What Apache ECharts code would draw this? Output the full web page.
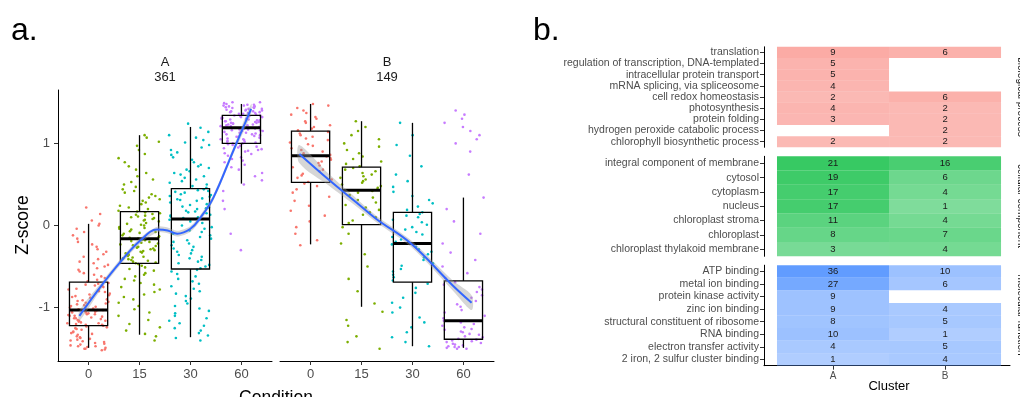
<!DOCTYPE html>
<html><head><meta charset="utf-8">
<script src="https://cdn.jsdelivr.net/npm/echarts@6/dist/echarts.min.js"></script>
<style>html,body{margin:0;padding:0;background:#fff}#c{width:1020px;height:397px}</style>
</head><body><div id="c"></div>
<script>
// ---------- Panel a data ----------
const condLabels = ['0', '15', '30', '60'];
const groupColors = ['#F8766D', '#7CAE00', '#00BFC4', '#C77CFF'];

// gene z-scores (sample), cluster A
const ptsA0 = [-1.52,-1.51,-1.5,-1.5,-1.49,-1.48,-1.47,-1.47,-1.46,-1.45,-1.44,-1.43,-1.42,-1.41,-1.4,-1.39,-1.38,-1.37,-1.36,-1.35,-1.33,-1.32,-1.31,-1.3,-1.29,-1.27,-1.26,-1.25,-1.24,-1.23,
  -1.22,-1.21,-1.21,-1.2,-1.19,-1.19,-1.18,-1.17,-1.16,-1.16,-1.15,-1.14,-1.13,-1.13,-1.12,-1.11,-1.1,-1.1,-1.09,-1.08,-1.08,-1.07,-1.06,-1.06,-1.05,-1.05,-1.04,-1.04,-1.03,-1.03,
  -1.02,-1.01,-1.0,-0.99,-0.98,-0.97,-0.96,-0.95,-0.94,-0.93,-0.92,-0.91,-0.9,-0.88,-0.87,-0.86,-0.85,-0.84,-0.83,-0.81,-0.8,-0.79,-0.78,-0.77,-0.75,-0.74,-0.73,-0.72,-0.71,-0.7,
  -0.68,-0.66,-0.64,-0.62,-0.6,-0.58,-0.56,-0.54,-0.52,-0.5,-0.48,-0.46,-0.44,-0.41,-0.38,-0.35,-0.32,-0.29,-0.26,-0.23,-0.2,-0.16,-0.12,-0.08,-0.04,0.0,0.02,0.06,0.14,0.22];
const ptsA15 = [-1.4,-1.35,-1.32,-1.28,-1.24,-1.2,-1.15,-1.1,-1.06,-1.02,-0.98,-0.94,-0.9,-0.87,-0.84,-0.81,-0.78,-0.75,-0.72,-0.7,-0.67,-0.65,-0.62,-0.6,-0.58,-0.55,-0.53,-0.51,-0.49,-0.47,
  -0.46,-0.45,-0.44,-0.43,-0.42,-0.41,-0.4,-0.39,-0.38,-0.37,-0.36,-0.35,-0.34,-0.33,-0.32,-0.31,-0.3,-0.29,-0.28,-0.27,-0.26,-0.25,-0.24,-0.23,-0.22,-0.21,-0.2,-0.19,-0.18,-0.17,
  -0.16,-0.15,-0.14,-0.13,-0.12,-0.1,-0.09,-0.08,-0.07,-0.05,-0.04,-0.03,-0.02,0.0,0.01,0.02,0.03,0.05,0.06,0.07,0.08,0.09,0.1,0.11,0.12,0.13,0.14,0.15,0.16,0.17,
  0.18,0.2,0.22,0.24,0.26,0.28,0.3,0.32,0.34,0.36,0.38,0.4,0.42,0.44,0.47,0.5,0.53,0.56,0.6,0.64,0.68,0.72,0.77,0.82,0.87,0.92,0.97,1.02,1.07,1.1];
const ptsA30 = [-1.4,-1.37,-1.34,-1.31,-1.28,-1.25,-1.22,-1.19,-1.16,-1.13,-1.1,-1.07,-1.04,-1.01,-0.98,-0.95,-0.92,-0.89,-0.86,-0.83,-0.8,-0.77,-0.74,-0.71,-0.68,-0.65,-0.62,-0.59,-0.56,-0.54,
  -0.52,-0.5,-0.48,-0.46,-0.44,-0.42,-0.4,-0.38,-0.36,-0.34,-0.32,-0.3,-0.28,-0.26,-0.24,-0.22,-0.2,-0.18,-0.16,-0.14,-0.12,-0.1,-0.08,-0.06,-0.04,-0.02,0.0,0.03,0.05,0.07,
  0.09,0.1,0.11,0.12,0.13,0.15,0.16,0.17,0.18,0.2,0.21,0.22,0.23,0.25,0.26,0.27,0.28,0.3,0.31,0.32,0.33,0.35,0.36,0.37,0.38,0.4,0.41,0.42,0.43,0.44,
  0.46,0.48,0.5,0.52,0.54,0.56,0.58,0.6,0.62,0.64,0.66,0.68,0.7,0.72,0.74,0.77,0.8,0.83,0.86,0.89,0.92,0.95,0.98,1.01,1.04,1.07,1.1,1.14,1.19,1.24];
const ptsA60 = [-0.3,-0.1,0.2,0.3,0.42,0.5,0.55,0.6,0.64,0.68,0.71,0.74,0.77,0.79,0.81,0.83,0.85,0.87,0.88,0.9,0.91,0.92,0.93,0.94,0.95,0.96,0.97,0.98,0.99,1.0,
  1.0,1.01,1.02,1.02,1.03,1.04,1.05,1.05,1.06,1.07,1.08,1.08,1.09,1.1,1.11,1.11,1.12,1.13,1.13,1.14,1.15,1.15,1.16,1.16,1.17,1.17,1.18,1.18,1.19,1.19,
  1.2,1.2,1.21,1.21,1.22,1.22,1.23,1.23,1.24,1.24,1.25,1.25,1.26,1.26,1.27,1.27,1.28,1.28,1.29,1.29,1.3,1.3,1.31,1.31,1.32,1.32,1.33,1.33,1.34,1.34,
  1.35,1.35,1.36,1.36,1.37,1.37,1.38,1.38,1.39,1.39,1.4,1.4,1.41,1.41,1.42,1.42,1.43,1.43,1.44,1.44,1.45,1.45,1.46,1.46,1.47,1.47,1.48,1.49,1.5,1.5];
// cluster B
const ptsB0 = [-0.24,-0.18,-0.1,-0.02,0.05,0.12,0.18,0.24,0.3,0.35,0.4,0.44,0.48,0.51,
  0.53,0.56,0.58,0.61,0.63,0.66,0.68,0.71,0.73,0.76,0.78,0.8,0.82,0.84,
  0.86,0.88,0.9,0.92,0.94,0.97,0.99,1.01,1.04,1.06,1.08,1.1,1.12,1.14,
  1.16,1.18,1.2,1.22,1.25,1.27,1.3,1.32,1.35,1.37,1.4,1.43,1.46,1.48];
const ptsB15 = [-1.5,-1.42,-1.35,-1.22,-1.15,-1.05,-0.95,-0.8,-0.65,-0.5,-0.35,-0.22,-0.1,-0.02,
  0.03,0.06,0.1,0.13,0.16,0.19,0.22,0.25,0.28,0.31,0.34,0.37,0.4,0.42,
  0.44,0.46,0.48,0.5,0.52,0.54,0.56,0.58,0.6,0.62,0.64,0.66,0.68,0.7,
  0.72,0.75,0.78,0.81,0.84,0.88,0.92,0.96,1.0,1.05,1.1,1.15,1.2,1.27];
const ptsB30 = [-1.47,-1.42,-1.36,-1.3,-1.24,-1.18,-1.12,-1.06,-1.0,-0.94,-0.88,-0.82,-0.76,-0.71,
  -0.67,-0.63,-0.6,-0.56,-0.53,-0.49,-0.46,-0.42,-0.39,-0.35,-0.32,-0.29,-0.26,-0.23,
  -0.2,-0.17,-0.14,-0.11,-0.08,-0.05,-0.02,0.01,0.04,0.07,0.1,0.12,0.14,0.16,
  0.19,0.23,0.27,0.31,0.36,0.41,0.47,0.54,0.62,0.72,0.85,0.98,1.1,1.25];
const ptsB60 = [-1.5,-1.5,-1.49,-1.48,-1.48,-1.47,-1.46,-1.45,-1.44,-1.43,-1.42,-1.41,-1.4,-1.39,
  -1.38,-1.36,-1.35,-1.33,-1.32,-1.3,-1.29,-1.27,-1.26,-1.24,-1.22,-1.2,-1.18,-1.16,
  -1.13,-1.1,-1.06,-1.03,-0.99,-0.96,-0.92,-0.88,-0.85,-0.81,-0.78,-0.75,-0.72,-0.69,
  -0.64,-0.58,-0.5,-0.42,-0.33,-0.22,-0.1,0.05,0.2,0.34,0.62,0.9,1.0,1.05,1.1,1.15,1.2,1.25,1.3,1.35,1.4];

// box stats per condition: [lower whisker, q1, median, q3, upper whisker]
const boxStatsA = [[-1.49,-1.22,-1.03,-0.69,0.02],[-1.33,-0.46,-0.16,0.17,1.1],[-1.36,-0.53,0.08,0.45,1.2],[0.51,1.0,1.19,1.34,1.48]];
const boxStatsB = [[-0.23,0.525,0.85,1.15,1.48],[-0.99,0.01,0.43,0.71,1.27],[-1.47,-0.69,-0.22,0.16,1.25],[-1.49,-1.385,-1.16,-0.675,0.34]];

// smooth fits: [condition position, z-score] and standard error half-width
const smoothA = [[-0.18,-1.1],[0.23,-0.75],[0.63,-0.44],[1.02,-0.18],[1.35,-0.05],[1.55,-0.06],[1.74,-0.1],[2.0,-0.04],[2.2,0.1],[2.45,0.34],[2.84,0.91],[3.19,1.42]];
const smoothAse = [0.06,0.04,0.035,0.035,0.035,0.035,0.035,0.035,0.035,0.035,0.04,0.06];
const smoothB = [[-0.22,0.87],[0.37,0.55],[0.9,0.28],[1.29,0.08],[1.97,-0.22],[2.79,-0.73],[3.16,-0.94]];
const smoothBse = [0.11,0.07,0.05,0.04,0.04,0.06,0.09];

// ---------- Panel b data ----------
const clusters = ['A', 'B'];
const bpTerms = ['translation','regulation of transcription, DNA-templated','intracellular protein transport','mRNA splicing, via spliceosome','cell redox homeostasis','photosynthesis','protein folding','hydrogen peroxide catabolic process','chlorophyll biosynthetic process'];
const bpA = [9,5,5,4,2,4,3,null,2];
const bpB = [6,null,null,null,6,2,2,2,2];
const ccTerms = ['integral component of membrane','cytosol','cytoplasm','nucleus','chloroplast stroma','chloroplast','chloroplast thylakoid membrane'];
const ccA = [21,19,17,17,11,8,3];
const ccB = [16,6,4,1,4,7,4];
const mfTerms = ['ATP binding','metal ion binding','protein kinase activity','zinc ion binding','structural constituent of ribosome','RNA binding','electron transfer activity','2 iron, 2 sulfur cluster binding'];
const mfA = [36,27,9,9,8,10,4,1];
const mfB = [10,6,null,4,5,1,5,4];
const facetNames = ['biological process','cellular component','molecular function'];

// ---------- build ----------
const FONT = '"Liberation Sans", Arial, Helvetica, sans-serif';
const chart = echarts.init(document.getElementById('c'), null, {renderer: 'canvas'});

// deterministic horizontal spread (visual jitter only)
function spread(i, g) { const s = Math.sin(i * 12.9898 + g * 78.233 + 1.7) * 43758.5453; return s - Math.floor(s); }
function jitterSeries(vals, g, ai) {
  return {type: 'scatter', xAxisIndex: ai, yAxisIndex: ai, symbolSize: 2.6, silent: true, z: 1,
    itemStyle: {color: groupColors[g], opacity: 1},
    data: vals.map((v, i) => [g + (spread(i, g + ai * 4) - 0.5) * 0.84, v])};
}
function boxSeries(stats, ai) {
  return {type: 'custom', xAxisIndex: ai, yAxisIndex: ai, silent: true, z: 3,
    data: stats.map((s, g) => [g].concat(s)),
    encode: {x: 0, y: [1, 2, 3, 4, 5]},
    renderItem: (params, api) => {
      const g = api.value(0);
      const p = k => api.coord([g, api.value(k)]);
      const lo = p(1), q1 = p(2), md = p(3), q3 = p(4), hi = p(5);
      const hw = api.size([0.75, 0])[0] / 2;
      const x = lo[0];
      const st = {stroke: '#000', lineWidth: 1.3, fill: 'none'};
      return {type: 'group', children: [
        {type: 'line', shape: {x1: x, y1: hi[1], x2: x, y2: q3[1]}, style: st},
        {type: 'line', shape: {x1: x, y1: q1[1], x2: x, y2: lo[1]}, style: st},
        {type: 'rect', shape: {x: x - hw, y: q3[1], width: 2 * hw, height: q1[1] - q3[1]}, style: st},
        {type: 'line', shape: {x1: x - hw, y1: md[1], x2: x + hw, y2: md[1]}, style: {stroke: '#000', lineWidth: 3}}
      ]};
    }};
}
function bandSeries(pts, se, ai) {
  return {type: 'custom', xAxisIndex: ai, yAxisIndex: ai, silent: true, z: 4,
    data: [pts[0]], encode: {x: 0, y: 1},
    renderItem: (params, api) => {
      const up = pts.map((q, i) => api.coord([q[0], q[1] + se[i]]));
      const dn = pts.map((q, i) => api.coord([q[0], q[1] - se[i]])).reverse();
      return {type: 'polygon', shape: {points: up.concat(dn), smooth: 0.3}, style: {fill: 'rgba(153,153,153,0.4)'}};
    }};
}
function smoothSeries(pts, ai) {
  return {type: 'line', xAxisIndex: ai, yAxisIndex: ai, data: pts, smooth: 0.4, showSymbol: false, silent: true, z: 5,
    lineStyle: {color: '#3366FF', width: 2}};
}
const baseRGB = [[248,118,109],[0,186,56],[97,156,255]];
function heatSeries(a, b, fi) {
  const data = [];
  a.forEach((v, i) => { if (v != null) data.push([0, i, v]); });
  b.forEach((v, i) => { if (v != null) data.push([1, i, v]); });
  const c = baseRGB[fi];
  return {type: 'custom', xAxisIndex: 2 + fi, yAxisIndex: 2 + fi, silent: true, data: data, encode: {x: 0, y: 1},
    renderItem: (params, api) => {
      const ctr = api.coord([api.value(0), api.value(1)]);
      const s = api.size([1, 1]);
      const v = api.value(2);
      const al = 0.5 + 0.5 * (v - 1) / 35;
      return {type: 'group', children: [
        {type: 'rect', shape: {x: ctr[0] - s[0] / 2, y: ctr[1] - s[1] / 2, width: s[0], height: s[1]},
          style: {fill: 'rgba(' + c[0] + ',' + c[1] + ',' + c[2] + ',' + al + ')'}},
        {type: 'text', x: ctr[0], y: ctr[1], style: {text: String(v), fill: '#1a1a1a', font: '9.5px ' + FONT, align: 'center', verticalAlign: 'middle'}}
      ]};
    }};
}

const axLine = {show: true, onZero: false, lineStyle: {color: '#000', width: 1}};
function condX(gi) {
  return {gridIndex: gi, type: 'value', min: -0.6, max: 3.6, axisLine: axLine,
    axisTick: {show: true, length: 4, lineStyle: {color: '#333'}, customValues: [0, 1, 2, 3]},
    axisLabel: {customValues: [0, 1, 2, 3], formatter: v => condLabels[Math.round(v)], color: '#4d4d4d', fontSize: 13, fontFamily: FONT, margin: 7},
    splitLine: {show: false}};
}
function termY(gi, terms) {
  return {gridIndex: gi, type: 'category', data: terms, inverse: true, axisLine: axLine,
    axisTick: {show: true, alignWithLabel: true, length: 4, lineStyle: {color: '#333'}},
    axisLabel: {interval: 0, fontSize: 10.5, color: '#4d4d4d', fontFamily: FONT, margin: 5},
    splitLine: {show: false}};
}
const XMIN = -0.616, XMAX = 1.58;

const txt = (x, y, s, size, extra) => Object.assign({type: 'text', x: x, y: y, silent: true,
  style: {text: s, font: size + 'px ' + FONT, fill: '#000', align: 'center', verticalAlign: 'middle'}}, extra || {});
const txt2 = (x, y, s, size, fill, align, rot) => ({type: 'text', x: x, y: y, silent: true, rotation: rot || 0,
  style: {text: s, font: size + 'px ' + FONT, fill: fill, align: align, verticalAlign: 'middle'}});

chart.setOption({
  animation: false,
  backgroundColor: '#fff',
  grid: [
    {left: 58, top: 90, width: 214, height: 271, containLabel: false, outerBoundsMode: 'none'},
    {left: 280, top: 90, width: 214, height: 271, containLabel: false, outerBoundsMode: 'none'},
    {left: 764, top: 46.8, width: 246, height: 100.5, containLabel: false, outerBoundsMode: 'none'},
    {left: 764, top: 156.3, width: 246, height: 100, containLabel: false, outerBoundsMode: 'none'},
    {left: 764, top: 265.2, width: 246, height: 100.5, containLabel: false, outerBoundsMode: 'none'}
  ],
  xAxis: [
    condX(0), condX(1),
    {gridIndex: 2, type: 'value', min: XMIN, max: XMAX, show: false},
    {gridIndex: 3, type: 'value', min: XMIN, max: XMAX, show: false},
    {gridIndex: 4, type: 'value', min: XMIN, max: XMAX, axisLine: axLine,
      axisTick: {show: true, length: 4, lineStyle: {color: '#333'}, customValues: [0, 1]},
      axisLabel: {customValues: [0, 1], formatter: v => clusters[Math.round(v)], color: '#4d4d4d', fontSize: 10, fontFamily: FONT, margin: 6},
      splitLine: {show: false}}
  ],
  yAxis: [
    {gridIndex: 0, type: 'value', min: -1.65, max: 1.65, axisLine: axLine,
      axisTick: {show: true, length: 4, lineStyle: {color: '#333'}, customValues: [-1, 0, 1]},
      axisLabel: {customValues: [-1, 0, 1], formatter: v => String(Math.round(v)), color: '#4d4d4d', fontSize: 13, fontFamily: FONT, margin: 8},
      splitLine: {show: false}},
    {gridIndex: 1, type: 'value', min: -1.65, max: 1.65, show: false},
    termY(2, bpTerms), termY(3, ccTerms), termY(4, mfTerms)
  ],
  series: [
    jitterSeries(ptsA0, 0, 0), jitterSeries(ptsA15, 1, 0), jitterSeries(ptsA30, 2, 0), jitterSeries(ptsA60, 3, 0),
    jitterSeries(ptsB0, 0, 1), jitterSeries(ptsB15, 1, 1), jitterSeries(ptsB30, 2, 1), jitterSeries(ptsB60, 3, 1),
    boxSeries(boxStatsA, 0), boxSeries(boxStatsB, 1),
    bandSeries(smoothA, smoothAse, 0), bandSeries(smoothB, smoothBse, 1),
    smoothSeries(smoothA, 0), smoothSeries(smoothB, 1),
    heatSeries(bpA, bpB, 0), heatSeries(ccA, ccB, 1), heatSeries(mfA, mfB, 2)
  ],
  graphic: [
    txt2(11, 31, 'a.', 32, '#000', 'left'),
    txt2(533, 31, 'b.', 32, '#000', 'left'),
    txt2(165, 62, 'A', 13, '#1a1a1a', 'center'),
    txt2(165, 77, '361', 13, '#1a1a1a', 'center'),
    txt2(387, 62, 'B', 13, '#1a1a1a', 'center'),
    txt2(387, 77, '149', 13, '#1a1a1a', 'center'),
    txt(23, 225, 'Z-score', 17.5, {rotation: Math.PI / 2}),
    txt(276, 398, 'Condition', 17.5),
    txt(889, 386, 'Cluster', 13),
    txt2(1021, 97, facetNames[0], 10, '#1a1a1a', 'center', -Math.PI / 2),
    txt2(1021, 206, facetNames[1], 10, '#1a1a1a', 'center', -Math.PI / 2),
    txt2(1021, 315, facetNames[2], 10, '#1a1a1a', 'center', -Math.PI / 2)
  ]
});
</script>
</body></html>
